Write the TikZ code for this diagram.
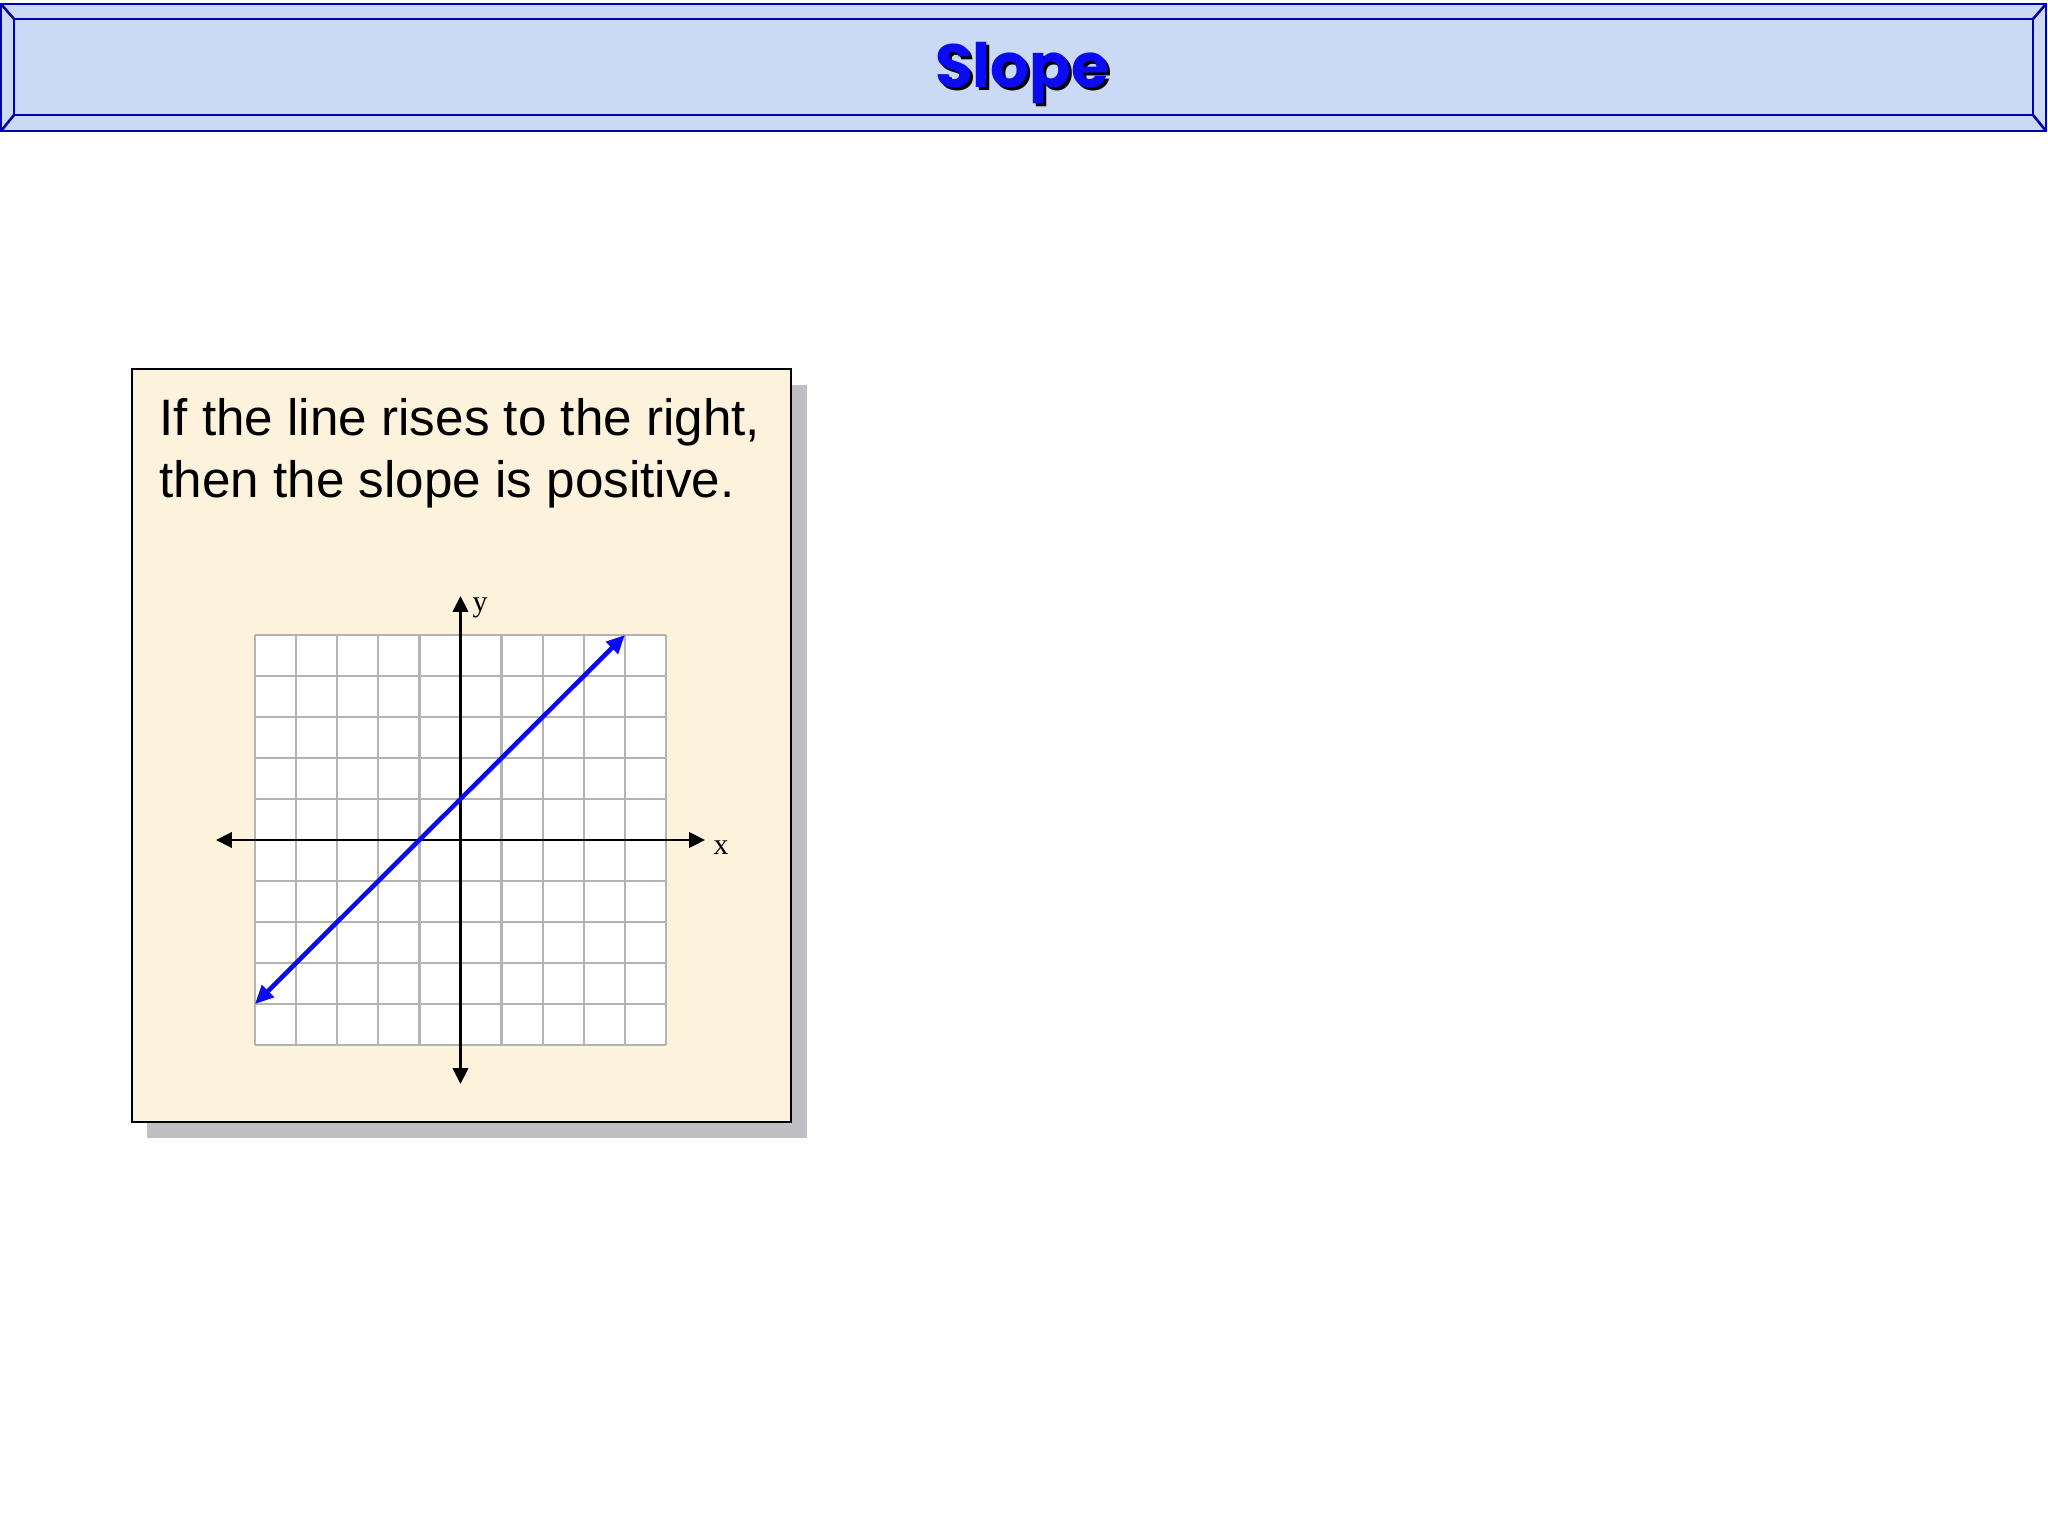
\documentclass[tikz,border=0pt]{standalone}
\usepackage{fontspec}
\setmainfont{Liberation Sans}
\newfontfamily\titlefont{Poppins}
\newfontfamily\labelfont{Liberation Serif}
\usetikzlibrary{arrows.meta}

\definecolor{titlebg}{RGB}{202,218,245}
\definecolor{bevelblue}{RGB}{0,0,170}
\definecolor{parch}{RGB}{253,243,221}
\definecolor{shadowgray}{RGB}{192,192,196}
\definecolor{gridgray}{RGB}{180,180,180}
\definecolor{slopeblue}{RGB}{10,10,245}

\begin{document}
\begin{tikzpicture}[x=0.3515625pt,y=-0.3515625pt,
  bevel/.style={draw=bevelblue,line width=0.9pt},
  titletext/.style={font=\titlefont\bfseries\fontsize{21.5}{26}\selectfont,inner sep=0pt,anchor=base},
  bodytext/.style={font=\fontsize{18}{22}\selectfont,inner sep=0pt,anchor=base west},
  axislabel/.style={font=\labelfont\fontsize{10.5}{12}\selectfont,inner sep=0pt},
  gridline/.style={draw=gridgray,line width=0.8pt},
  axis/.style={draw=black,line width=0.9pt,{Triangle[length=5.6pt,width=5.4pt]}-{Triangle[length=5.6pt,width=5.4pt]}},
  slopeline/.style={draw=slopeblue,line width=1.6pt,{Triangle[length=6.5pt,width=5.8pt]}-{Triangle[length=6.5pt,width=5.8pt]}}
]
\useasboundingbox (0,0) rectangle (2048,1536);
\fill[white] (0,0) rectangle (2048,1536);

% ---- title bar ----
\coordinate (o1) at (1,4);
\coordinate (o2) at (2046,4);
\coordinate (o3) at (2046,131);
\coordinate (o4) at (1,131);
\coordinate (i1) at (14,19);
\coordinate (i2) at (2033,19);
\coordinate (i3) at (2033,115);
\coordinate (i4) at (14,115);
\fill[titlebg] (o1) rectangle (o3);
\draw[bevel] (o1) -- (o2) -- (o3) -- (o4) -- cycle;
\draw[bevel] (i1) -- (i2) -- (i3) -- (i4) -- cycle;
\draw[bevel] (o1) -- (i1) (o2) -- (i2) (o3) -- (i3) (o4) -- (i4);
\node[titletext,text=black] (titleshadow) at (1025,91) {Slope};
\node[titletext,text=slopeblue] (title) at (1022,88) {Slope};

% ---- card ----
\fill[shadowgray] (147,385) rectangle (807,1138);
\node[draw=black,line width=0.75pt,fill=parch,minimum width=231.7pt,minimum height=264.7pt,inner sep=0pt,anchor=north west] (card) at (130.5,368) {};

\node[bodytext] (line1) at (159,436) {If the line rises to the right,};
\node[bodytext] (line2) at (159,498) {then the slope is positive.};

% ---- grid ----
\fill[white] (255,635) rectangle (666,1045);
\foreach \i in {0,...,10} {
  \draw[gridline] ({255+41.1*\i},635) -- ({255+41.1*\i},1045);
  \draw[gridline] (255,{635+41*\i}) -- (666,{635+41*\i});
}

% ---- axes ----
\coordinate (xl) at (216,840);
\coordinate (xr) at (705,840);
\coordinate (yt) at (460.5,596);
\coordinate (yb) at (460.5,1084);
\draw[axis] (xl) -- (xr);
\draw[axis] (yb) -- (yt);
\node[axislabel] (ylab) at (480,608) {y};
\node[axislabel] (xlab) at (721,848) {x};

% ---- line y = x + 1 ----
\coordinate (p1) at (255,1004);
\coordinate (p2) at (624.9,635);
\draw[slopeline] (p1) -- (p2);
\end{tikzpicture}
\end{document}
